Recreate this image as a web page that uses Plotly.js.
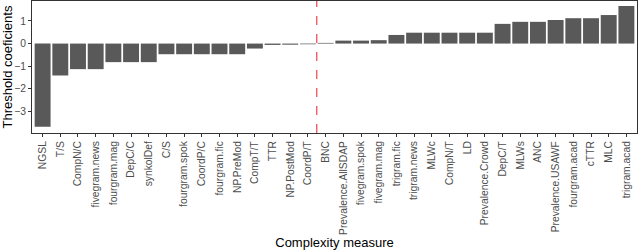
<!DOCTYPE html>
<html><head><meta charset="utf-8">
<script src="https://cdn.plot.ly/plotly-3.0.1.min.js"></script>
<style>html,body{margin:0;padding:0;background:#fff}#chart{width:640px;height:250px}</style>
</head><body><div id="chart"></div>
<script>
const measures = ["NGSL","T/S","CompN/C","fivegram.news","fourgram.mag","DepC/C","synkolDef","C/S","fourgram.spok","CoordP/C","fourgram.fic","NP.PreMod","CompT/T","TTR","NP.PostMod","CoordP/T","BNC","Prevalence.AllSDAP","fivegram.spok","fivegram.mag","trigram.fic","trigram.news","MLWc","CompN/T","LD","Prevalence.Crowd","DepC/T","MLWs","ANC","Prevalence.USAWF","fourgram.acad","cTTR","MLC","trigram.acad"];
const coefficients = [-3.67,-1.41,-1.13,-1.13,-0.82,-0.82,-0.82,-0.47,-0.47,-0.47,-0.47,-0.47,-0.22,-0.06,-0.05,-0.03,0.03,0.13,0.13,0.15,0.38,0.48,0.48,0.48,0.48,0.48,0.87,0.96,0.96,1.04,1.12,1.12,1.26,1.66];
const yTicks = [-3,-2,-1,0,1];
const splitPosition = 15.5;

const trace = {type:'bar', x:measures, y:coefficients, width:0.9,
  marker:{color:'#595959', line:{width:0}}, hoverinfo:'x+y'};
const layout = {
  width:640, height:250, margin:{l:32,r:3,t:1,b:117},
  paper_bgcolor:'#fff', plot_bgcolor:'#fff', showlegend:false,
  font:{family:'Liberation Sans, Arial, sans-serif'},
  xaxis:{type:'category', range:[-0.6,33.6], showgrid:false, zeroline:false,
    showline:true, mirror:true, linecolor:'#333333', linewidth:1,
    ticks:'outside', ticklen:3, tickcolor:'#333333', tickangle:-90,
    tickfont:{size:10.3, color:'#4d4d4d'}, automargin:false,
    title:{text:'Complexity measure', font:{size:13, color:'#000'}, standoff:9}},
  yaxis:{range:[-3.95,1.88], tickvals:yTicks, showgrid:false, zeroline:false,
    showline:true, mirror:true, linecolor:'#333333', linewidth:1,
    ticks:'outside', ticklen:3, tickcolor:'#333333',
    tickfont:{size:10.3, color:'#4d4d4d'}, automargin:false,
    title:{text:'Threshold coeficients', font:{size:13, color:'#000'}, standoff:2}},
  shapes:[{type:'line', xref:'x', yref:'paper', x0:splitPosition, x1:splitPosition, y0:0, y1:1,
    line:{color:'#e8202a', width:1, dash:'dash'}}]
};
Plotly.newPlot('chart',[trace],layout,{displayModeBar:false,staticPlot:true});
</script></body></html>
